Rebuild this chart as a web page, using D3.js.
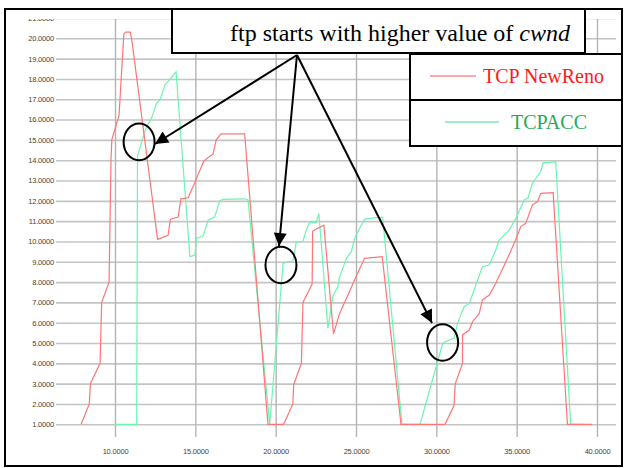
<!DOCTYPE html>
<html>
<head>
<meta charset="utf-8">
<script src="https://cdn.jsdelivr.net/npm/d3@7"></script>
<style>
  body { margin: 0; background: #fff; }
  svg { display: block; }
</style>
</head>
<body>
<svg id="chart" width="625" height="468"></svg>
<script>
// time (s) vs cwnd
var xTicks = [10, 15, 20, 25, 30, 35, 40];
var yTicks = d3.range(1, 22);

var newReno = [
  [7.89, 1], [8.4, 2], [8.47, 3], [9.07, 4], [9.17, 7], [9.63, 8], [9.75, 14],
  [9.8, 15], [10.25, 16.2], [10.55, 20.2], [10.65, 20.3], [10.95, 20.3], [11.05, 19.9],
  [12.65, 10.1], [13.3, 10.3], [13.45, 11.1], [13.93, 11.2], [14.1, 12.1], [14.55, 12.15],
  [14.97, 12.9], [15.2, 13.35], [15.53, 13.95], [15.9, 14.2], [16.1, 14.3], [16.3, 15.0],
  [16.6, 15.3], [18.07, 15.3], [19.52, 1], [20.5, 1], [21.07, 2.0], [21.12, 2.95],
  [21.6, 4.0], [21.7, 7.0], [22.27, 7.9], [22.3, 10.5], [22.5, 10.6], [23.0, 10.8],
  [23.6, 5.45], [23.98, 6.46], [24.5, 7.36], [25.0, 8.26], [25.53, 9.17], [26.63, 9.25],
  [27.8, 1], [30.54, 1], [31.1, 1.92], [31.18, 3.0], [31.63, 4.0], [31.63, 5.4],
  [32.05, 5.64], [32.25, 6.05], [32.67, 6.46], [32.87, 7.12], [33.3, 7.36], [33.7, 7.94],
  [34.33, 9.0], [34.84, 9.9], [35.26, 10.73], [35.57, 10.9], [35.98, 11.8], [36.3, 11.96],
  [36.5, 12.37], [37.27, 12.4], [38.16, 1], [39.7, 1]
];

var tcpAcc = [
  [10.0, 1], [11.35, 1], [11.4, 14.2], [11.66, 14.9], [11.96, 15.65], [12.27, 16.06],
  [12.58, 16.8], [12.8, 16.96], [13.1, 17.7], [13.4, 17.95], [13.8, 18.35], [14.66, 9.25],
  [14.97, 9.33], [15.07, 10.15], [15.48, 10.27], [15.8, 11.05], [16.2, 11.2], [16.52, 11.99],
  [16.72, 12.07], [18.07, 12.1], [18.28, 12.04], [19.63, 1], [20.46, 8.92], [20.76, 9.0],
  [21.07, 9.05], [21.28, 9.96], [21.7, 10.0], [21.9, 10.56], [22.1, 10.92], [22.52, 10.94],
  [22.69, 11.38], [22.73, 10.97], [23.25, 5.72], [23.56, 7.3], [23.87, 7.77], [23.98, 8.26],
  [24.4, 9.17], [24.71, 9.5], [24.91, 10.15], [25.22, 10.65], [25.55, 11.1], [26.25, 11.17],
  [26.66, 11.19], [27.86, 1], [28.98, 1], [30.4, 4.99], [30.8, 5.15], [31.1, 5.23],
  [31.32, 5.97], [31.73, 6.79], [32.05, 6.95], [32.46, 7.86], [32.87, 8.76], [33.29, 8.84],
  [33.7, 9.58], [33.91, 10.07], [34.53, 10.56], [34.95, 11.14], [35.47, 12.04], [35.7, 12.12],
  [35.98, 12.86], [36.19, 13.1], [36.5, 13.43], [36.65, 13.87], [37.43, 13.92], [38.36, 1],
  [39.2, 1]
];

// callout targets: [time, cwnd] where ftp restarts
var callouts = [[11.5, 14.9], [20.33, 8.84], [30.39, 5.03]];

var svg = d3.select("#chart");

var x = d3.scaleLinear().domain([10, 40]).range([115, 597]);
var y = d3.scaleLinear().domain([1, 20]).range([424.3, 38.3]);

svg.append("defs").append("clipPath")
  .attr("id", "plotClip")
  .append("rect")
  .attr("x", 0).attr("y", 19)
  .attr("width", 625).attr("height", 440);

var plot = svg.append("g").attr("clip-path", "url(#plotClip)");

// horizontal grid + labels
var yAxis = d3.axisLeft(y)
  .tickValues(yTicks)
  .tickSize(-560)
  .tickPadding(2)
  .tickFormat(d3.format(".4f"));

plot.append("g")
  .attr("class", "y-axis")
  .attr("transform", "translate(56,0)")
  .call(yAxis)
  .call(function (g) {
    g.select(".domain").remove();
    g.selectAll(".tick line").attr("stroke", "#c4c4c4").attr("stroke-width", 1.6);
    g.selectAll(".tick text")
      .attr("x", -2)
      .attr("fill", "#444")
      .style("font-family", "Arial, 'Liberation Sans', sans-serif")
      .style("font-size", "7.5px")
      .style("letter-spacing", "-0.2px");
  });

// vertical grid + labels
var xAxis = d3.axisBottom(x)
  .tickValues(xTicks)
  .tickSize(-418)
  .tickPadding(12)
  .tickFormat(d3.format(".4f"));

plot.append("g")
  .attr("class", "x-axis")
  .attr("transform", "translate(0,437)")
  .call(xAxis)
  .call(function (g) {
    g.select(".domain").remove();
    g.selectAll(".tick line").attr("stroke", "#b4b4b4").attr("stroke-width", 1.4);
    g.selectAll(".tick text")
      .attr("fill", "#444")
      .style("font-family", "Arial, 'Liberation Sans', sans-serif")
      .style("font-size", "7.5px")
      .style("letter-spacing", "-0.2px");
  });

var line = d3.line()
  .x(function (d) { return x(d[0]); })
  .y(function (d) { return y(d[1]); });

plot.append("path")
  .datum(tcpAcc)
  .attr("d", line)
  .attr("fill", "none")
  .attr("stroke", "#6cf5b0")
  .attr("stroke-width", 1.2);

plot.append("path")
  .datum(newReno)
  .attr("d", line)
  .attr("fill", "none")
  .attr("stroke", "#ff7575")
  .attr("stroke-width", 1.2);

// outer frame
svg.append("rect")
  .attr("x", 5).attr("y", 9)
  .attr("width", 617).attr("height", 457)
  .attr("fill", "none")
  .attr("stroke", "#000")
  .attr("stroke-width", 2);

// arrows + ellipses
svg.append("defs").append("marker")
  .attr("id", "head")
  .attr("viewBox", "0 0 10 10")
  .attr("refX", 10).attr("refY", 5)
  .attr("markerWidth", 17).attr("markerHeight", 13)
  .attr("markerUnits", "userSpaceOnUse")
  .attr("orient", "auto")
  .append("path")
  .attr("d", "M0,0L10,5L0,10Z")
  .attr("fill", "#000");

var tips = [[155, 144], [279, 246], [432, 323]];
var ell = svg.append("g");

ell.selectAll("line")
  .data(tips)
  .enter().append("line")
  .attr("x1", 297).attr("y1", 55)
  .attr("x2", function (d) { return d[0]; })
  .attr("y2", function (d) { return d[1]; })
  .attr("stroke", "#000")
  .attr("stroke-width", 2)
  .attr("marker-end", "url(#head)");

ell.selectAll("ellipse")
  .data(callouts)
  .enter().append("ellipse")
  .attr("cx", function (d) { return x(d[0]); })
  .attr("cy", function (d) { return y(d[1]); })
  .attr("rx", 15.5)
  .attr("ry", 18.3)
  .attr("fill", "none")
  .attr("stroke", "#000")
  .attr("stroke-width", 2);

// annotation box
svg.append("rect")
  .attr("x", 172).attr("y", 9)
  .attr("width", 413).attr("height", 44)
  .attr("fill", "#fff")
  .attr("stroke", "#000")
  .attr("stroke-width", 2);

var note = svg.append("text")
  .attr("x", 400).attr("y", 41)
  .attr("text-anchor", "middle")
  .style("font-family", "'Times New Roman', 'Liberation Serif', serif")
  .style("font-size", "24px")
  .attr("fill", "#000");
note.append("tspan").text("ftp starts with higher value of ");
note.append("tspan").style("font-style", "italic").text("cwnd");

// legend
var legend = [
  { name: "TCP NewReno", line: "#ff5050", text: "#ff1a1a", y: 54, x1: 430, x2: 476, tx: 483 },
  { name: "TCPACC", line: "#3fdc8a", text: "#1faa5c", y: 100, x1: 445, x2: 499, tx: 511 }
];

var lg = svg.selectAll(".legend")
  .data(legend)
  .enter().append("g")
  .attr("class", "legend");

lg.append("rect")
  .attr("x", 410)
  .attr("y", function (d) { return d.y; })
  .attr("width", 212).attr("height", 46)
  .attr("fill", "#fff")
  .attr("stroke", "#000")
  .attr("stroke-width", 2);

lg.append("line")
  .attr("x1", function (d) { return d.x1; })
  .attr("x2", function (d) { return d.x2; })
  .attr("y1", function (d) { return d.y + 22; })
  .attr("y2", function (d) { return d.y + 22; })
  .attr("stroke", function (d) { return d.line; })
  .attr("stroke-width", 1);

lg.append("text")
  .attr("x", function (d) { return d.tx; })
  .attr("y", function (d) { return d.y + 29; })
  .attr("fill", function (d) { return d.text; })
  .style("font-family", "'Times New Roman', 'Liberation Serif', serif")
  .style("font-size", "20px")
  .text(function (d) { return d.name; });
</script>
</body>
</html>
